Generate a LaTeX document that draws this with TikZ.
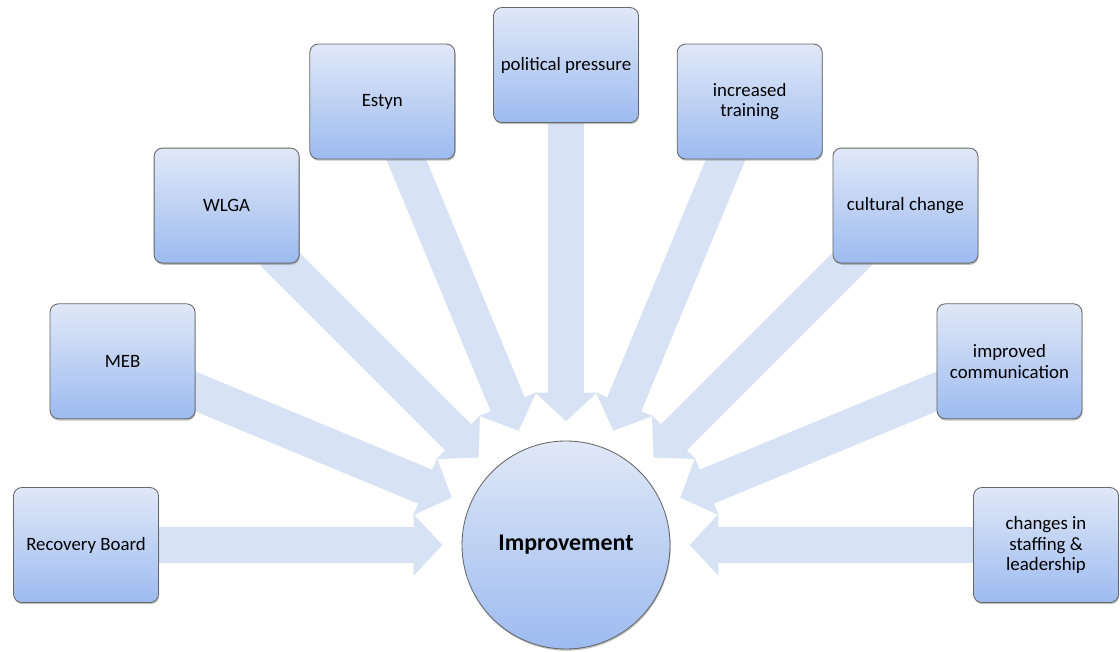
\documentclass[tikz,border=0pt]{standalone}
\usepackage{fontspec}
\setmainfont{Carlito}
\usetikzlibrary{positioning,arrows.meta,backgrounds,shadows}

\definecolor{boxtop}{RGB}{224,232,247}
\definecolor{boxbot}{RGB}{157,187,240}
\definecolor{arrfill}{RGB}{216,226,245}

\begin{document}
\begin{tikzpicture}[
    factor/.style={rectangle, rounded corners=6pt, draw=black!60, line width=0.6pt,
                   top color=boxtop, bottom color=boxbot, text centered, align=center,
                   minimum width=3.625cm, minimum height=2.875cm, inner sep=1pt,
                   font=\fontsize{13.4}{14.6}\selectfont,
                   drop shadow={shadow xshift=0.5pt, shadow yshift=-1.2pt, opacity=0.5}},
    hub/.style={circle, draw=black!60, line width=0.6pt,
                top color=boxtop, bottom color=boxbot, minimum size=5.2cm,
                font=\fontsize{17}{20}\selectfont\bfseries,
                drop shadow={shadow xshift=0.5pt, shadow yshift=-1.2pt, opacity=0.5}},
    arr/.style={draw=arrfill, line width=0.92cm, shorten <=-0.4cm, shorten >=0.48cm,
                -{Triangle[length=0.72cm, width=1.5cm]}}
]
\useasboundingbox (0,0) rectangle (28,16.275);
\node[hub] (imp) at (14.15,2.65) {Improvement};
% influences on a half ring round the hub
\node[factor] (board)    at ([shift={(180:12)}]imp)   {Recovery Board};
\node[factor] (meb)      at ([shift={(157.5:12)}]imp) {MEB};
\node[factor] (wlga)     at ([shift={(135:12)}]imp)   {WLGA};
\node[factor] (estyn)    at ([shift={(112.5:12)}]imp) {Estyn};
\node[factor] (politics) at ([shift={(90:12)}]imp)    {political pressure};
\node[factor] (training) at ([shift={(67.5:12)}]imp)  {increased\\training};
\node[factor] (culture)  at ([shift={(45:12)}]imp)    {cultural change};
\node[factor] (comms)    at ([shift={(22.5:12)}]imp)  {improved\\communication};
\node[factor] (staffing) at ([shift={(0:12)}]imp)     {changes in\\staffing \&\\leadership};
\begin{scope}[on background layer]
\draw[arr] (board)--(imp); \draw[arr] (meb)--(imp);
\draw[arr] (wlga)--(imp); \draw[arr] (estyn)--(imp);
\draw[arr] (politics)--(imp); \draw[arr] (training)--(imp);
\draw[arr] (culture)--(imp); \draw[arr] (comms)--(imp);
\draw[arr] (staffing)--(imp);
\end{scope}
\end{tikzpicture}
\end{document}
